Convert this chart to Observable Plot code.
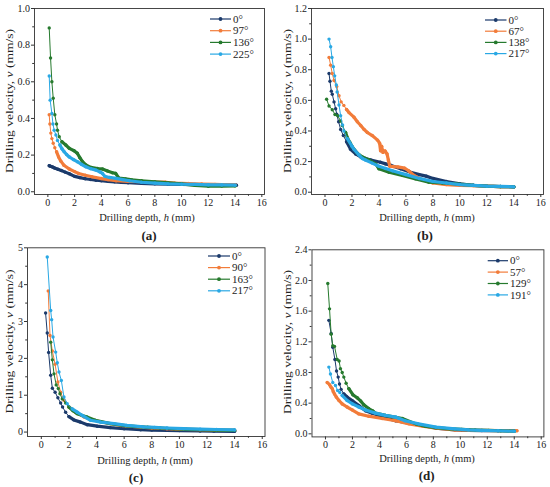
<!DOCTYPE html>
<html>
<head>
<meta charset="utf-8">
<script src="https://cdn.jsdelivr.net/npm/d3@7"></script>
<script src="https://cdn.jsdelivr.net/npm/@observablehq/plot@0.6"></script>
<style>
  body { margin: 0; background: #fff; }
  #fig { position: relative; width: 550px; height: 487px; font-family: "Liberation Serif", "Times New Roman", serif; }
  .panel { position: absolute; }
</style>
</head>
<body>
<div id="fig"></div>
<script>
// ---------- data ----------
const seriesColors = ["#1b3a6b", "#f27c3a", "#267a2e", "#29a8e4"];
const xMajor = [0, 2, 4, 6, 8, 10, 12, 14, 16];
const xMinor = [1, 3, 5, 7, 9, 11, 13, 15];

// (a)
const labelsA = ["0°", "97°", "136°", "225°"];
const a0 = [[0.1,0.142],[0.2,0.139],[0.35,0.135],[0.5,0.13],[0.75,0.123],[1.0,0.116],[1.3,0.107],[1.6,0.098],[2.0,0.084],[2.4,0.077],[2.8,0.071],[3.2,0.067],[3.6,0.063],[4.0,0.06],[4.5,0.057],[5.0,0.054],[5.5,0.051],[6.0,0.049],[7.0,0.046],[8.0,0.043],[9.0,0.041],[10.0,0.04],[11.0,0.039],[12.0,0.038],[13.0,0.037],[14.1,0.036]];
const a1 = [[0.1,0.42],[0.15,0.37],[0.22,0.32],[0.3,0.29],[0.4,0.265],[0.52,0.24],[0.65,0.218],[0.8,0.19],[0.97,0.167],[1.2,0.145],[1.6,0.124],[2.0,0.11],[2.3,0.1],[2.8,0.09],[3.3,0.082],[4.0,0.072],[4.5,0.066],[5.1,0.06],[6.0,0.057],[7.0,0.055],[8.0,0.053],[8.8,0.052],[9.5,0.047],[10.5,0.045],[11.5,0.042],[12.5,0.04],[13.5,0.038],[14.0,0.037]];
const a2 = [[0.1,0.894],[0.2,0.73],[0.3,0.6],[0.4,0.51],[0.52,0.42],[0.65,0.37],[0.72,0.336],[0.85,0.3],[1.05,0.273],[1.34,0.255],[1.6,0.237],[1.96,0.224],[2.2,0.21],[2.39,0.186],[2.59,0.164],[2.84,0.146],[3.21,0.133],[3.71,0.127],[4.08,0.124],[4.46,0.113],[4.83,0.104],[5.07,0.1],[5.3,0.075],[5.8,0.07],[6.3,0.065],[7.0,0.06],[8.0,0.054],[9.0,0.048],[10.0,0.043],[11.0,0.035],[12.0,0.03],[13.0,0.031],[14.0,0.032]];
const a3 = [[0.1,0.632],[0.17,0.5],[0.3,0.427],[0.38,0.37],[0.47,0.336],[0.6,0.31],[0.72,0.28],[0.9,0.255],[1.05,0.235],[1.22,0.218],[1.4,0.203],[1.6,0.19],[1.9,0.176],[2.2,0.164],[2.5,0.15],[2.84,0.136],[3.2,0.126],[3.6,0.118],[3.9,0.108],[4.08,0.1],[4.25,0.085],[4.6,0.078],[5.1,0.073],[5.6,0.066],[6.1,0.06],[7.0,0.052],[8.0,0.047],[9.0,0.043],[10.0,0.041],[11.0,0.04],[12.0,0.038],[13.0,0.037],[14.0,0.036]];

// (b)
const labelsB = ["0°", "67°", "138°", "217°"];
const b0 = [[0.3,0.775],[0.37,0.725],[0.47,0.66],[0.54,0.64],[0.67,0.59],[0.79,0.545],[0.87,0.51],[1.01,0.46],[1.16,0.41],[1.36,0.37],[1.6,0.33],[1.9,0.28],[2.27,0.25],[2.65,0.23],[3.0,0.22],[3.4,0.21],[4.1,0.196],[4.5,0.185],[4.9,0.175],[5.6,0.153],[6.35,0.13],[7.0,0.115],[7.5,0.105],[8.0,0.09],[9.0,0.07],[10.0,0.055],[11.0,0.045],[12.0,0.04],[13.0,0.037],[14.0,0.035]];
const b1 = [[0.3,0.88],[0.42,0.83],[0.54,0.775],[0.67,0.73],[0.87,0.69],[1.04,0.63],[1.2,0.59],[1.4,0.567],[1.6,0.54],[1.78,0.52],[2.15,0.49],[2.4,0.46],[2.65,0.436],[2.9,0.41],[3.14,0.39],[3.5,0.37],[3.9,0.34],[4.05,0.32],[4.12,0.27],[4.2,0.3],[4.3,0.26],[4.45,0.27],[4.6,0.25],[4.7,0.21],[4.8,0.17],[5.1,0.167],[5.4,0.165],[5.9,0.157],[6.2,0.14],[6.6,0.11],[7.0,0.09],[7.5,0.075],[8.0,0.06],[9.0,0.05],[10.0,0.045],[11.0,0.042],[12.0,0.04],[13.0,0.037],[14.0,0.035]];
const b2 = [[0.12,0.607],[0.3,0.563],[0.54,0.539],[0.74,0.508],[0.94,0.5],[1.16,0.465],[1.29,0.436],[1.53,0.39],[1.66,0.356],[1.83,0.327],[2.03,0.295],[2.4,0.255],[2.77,0.23],[3.26,0.21],[3.76,0.185],[4.0,0.153],[4.75,0.13],[5.74,0.11],[6.73,0.087],[7.7,0.065],[8.7,0.06],[9.7,0.055],[10.3,0.05],[11.0,0.045],[12.0,0.04],[13.0,0.037],[14.0,0.035]];
const b3 = [[0.3,1.0],[0.42,0.95],[0.52,0.88],[0.62,0.82],[0.72,0.76],[0.84,0.7],[0.9,0.655],[1.04,0.57],[1.16,0.5],[1.3,0.44],[1.4,0.4],[1.66,0.35],[2.0,0.3],[2.15,0.28],[2.5,0.245],[2.77,0.22],[3.0,0.21],[3.5,0.19],[4.0,0.17],[4.5,0.155],[5.0,0.14],[6.0,0.115],[7.0,0.09],[8.0,0.07],[9.0,0.06],[10.0,0.05],[11.0,0.045],[12.0,0.04],[13.0,0.038],[14.0,0.035]];

// (c)
const labelsC = ["0°", "90°", "163°", "217°"];
const c0 = [[0.31,3.23],[0.43,2.69],[0.53,2.16],[0.68,1.54],[0.8,1.19],[1.0,1.08],[1.2,0.93],[1.4,0.79],[1.54,0.68],[1.76,0.54],[2.0,0.42],[2.36,0.33],[2.85,0.27],[3.33,0.2],[4.05,0.16],[5.0,0.12],[6.0,0.09],[7.2,0.065],[8.0,0.055],[9.1,0.045],[10.0,0.04],[11.5,0.03],[12.5,0.025],[14.0,0.02]];
const c1 = [[0.5,3.83],[0.63,2.62],[0.8,2.2],[1.0,1.84],[1.2,1.36],[1.4,1.08],[1.64,0.86],[2.0,0.68],[2.48,0.54],[3.1,0.41],[3.8,0.32],[4.8,0.24],[5.75,0.18],[7.2,0.135],[8.0,0.11],[9.1,0.09],[10.2,0.075],[11.5,0.065],[12.7,0.055],[14.0,0.05]];
const c2 = [[0.68,2.44],[0.8,1.96],[0.92,1.58],[1.08,1.28],[1.23,1.18],[1.35,1.04],[1.52,0.9],[1.76,0.79],[2.0,0.68],[2.3,0.58],[2.6,0.5],[3.3,0.41],[3.9,0.32],[5.0,0.23],[6.2,0.17],[7.7,0.13],[8.6,0.11],[9.6,0.09],[10.5,0.075],[11.5,0.065],[12.7,0.055],[14.0,0.045]];
const c3 = [[0.43,4.75],[0.68,3.3],[0.75,3.05],[0.85,2.58],[1.04,2.17],[1.16,1.88],[1.28,1.63],[1.45,1.4],[1.64,0.95],[1.88,0.77],[2.24,0.63],[2.6,0.54],[2.97,0.45],[3.57,0.32],[4.3,0.27],[5.26,0.23],[6.2,0.18],[7.4,0.14],[8.2,0.125],[9.1,0.11],[10.3,0.095],[11.5,0.08],[12.7,0.07],[14.0,0.06]];

// (d)
const labelsD = ["0°", "57°", "129°", "191°"];
const d0 = [[0.25,1.48],[0.42,1.31],[0.54,1.13],[0.7,0.97],[0.82,0.82],[0.94,0.74],[1.04,0.65],[1.16,0.58],[1.36,0.52],[1.6,0.48],[2.0,0.43],[2.47,0.37],[2.97,0.3],[3.46,0.27],[4.2,0.22],[5.2,0.17],[6.2,0.14],[7.2,0.11],[8.2,0.074],[9.6,0.052],[10.6,0.046],[11.6,0.043],[12.8,0.041],[14.0,0.04]];
const d1 = [[0.12,0.67],[0.2,0.66],[0.3,0.64],[0.4,0.61],[0.5,0.59],[0.58,0.55],[0.67,0.52],[0.8,0.48],[1.0,0.435],[1.24,0.39],[1.6,0.35],[2.0,0.31],[2.47,0.26],[3.2,0.23],[4.2,0.2],[5.2,0.17],[6.2,0.13],[7.2,0.1],[8.2,0.074],[9.6,0.05],[10.6,0.047],[11.6,0.045],[12.9,0.042],[14.2,0.04]];
const d2 = [[0.17,1.96],[0.3,1.63],[0.42,1.3],[0.54,1.15],[0.67,1.14],[0.87,0.97],[1.01,0.95],[1.11,0.85],[1.24,0.8],[1.36,0.74],[1.53,0.66],[1.73,0.59],[2.03,0.51],[2.35,0.47],[2.6,0.43],[2.84,0.38],[3.2,0.33],[3.5,0.3],[3.7,0.27],[4.45,0.24],[5.7,0.2],[6.7,0.13],[7.4,0.1],[8.2,0.08],[9.2,0.065],[10.1,0.057],[11.1,0.05],[12.1,0.045],[13.0,0.04],[14.0,0.035]];
const d3s = [[0.25,0.87],[0.37,0.78],[0.54,0.67],[0.74,0.63],[0.9,0.565],[1.06,0.54],[1.24,0.5],[1.6,0.435],[2.0,0.39],[2.47,0.35],[2.97,0.31],[3.7,0.27],[4.45,0.24],[5.2,0.22],[5.9,0.17],[6.9,0.13],[8.2,0.087],[9.6,0.065],[10.6,0.052],[11.6,0.045],[12.8,0.04],[14.0,0.035]];

// ---------- layout / style ----------
const f1 = d3.format(".1f");
const panels = [
  {series:[a0,a1,a2,a3], labels:labelsA, left:0, top:0, w:275, h:240, mL:34, mR:11, mT:8, mB:46,
   yDomain:[-0.015,1.0], yMajor:[0,0.2,0.4,0.6,0.8,1.0], yMinor:[0.1,0.3,0.5,0.7,0.9], fmt:f1,
   band:[0.1,0.6,1.0,0.9], leg:{x0:210,x1:231,y0:19,dy:11.7}, xlab:{x:147,y:218}, ylab:{x:10,y:101}, cap:{x:149,y:236,t:"(a)"}},
  {series:[b0,b1,b2,b3], labels:labelsB, left:275, top:0, w:275, h:240, mL:36, mR:7, mT:8, mB:46,
   yDomain:[-0.015,1.2], yMajor:[0,0.2,0.4,0.6,0.8,1.0,1.2], yMinor:[0.1,0.3,0.5,0.7,0.9,1.1], fmt:f1,
   band:[1.5,1.5,1.5,1.5], leg:{x0:210,x1:231.5,y0:20,dy:11.2}, xlab:{x:152,y:217.5}, ylab:{x:13,y:101}, cap:{x:150,y:236,t:"(b)"}},
  {series:[c0,c1,c2,c3], labels:labelsC, left:0, top:240, w:275, h:247, mL:27, mR:10.5, mT:7.3, mB:51,
   yDomain:[-0.12,5], yMajor:[0,1,2,3,4,5], yMinor:[0.5,1.5,2.5,3.5,4.5], fmt:d3.format("d"),
   band:[1.8,2.0,1.8,2.0], leg:{x0:208,x1:230,y0:16,dy:11.6}, xlab:{x:145,y:221}, ylab:{x:9.5,y:101.5}, cap:{x:136,y:238,t:"(c)"}},
  {series:[d0,d1,d2,d3s], labels:labelsD, left:275, top:240, w:275, h:247, mL:36.5, mR:6.6, mT:9.3, mB:50.6,
   yDomain:[-0.04,2.4], yMajor:[0,0.4,0.8,1.2,1.6,2.0,2.4], yMinor:[0.2,0.6,1.0,1.4,1.8,2.2], fmt:f1,
   band:[1.2,0.3,1.6,1.1], leg:{x0:212.7,x1:233,y0:20.7,dy:11.4}, xlab:{x:152,y:218.3}, ylab:{x:12.5,y:102}, cap:{x:151.7,y:236,t:"(d)"}}
];

const fig = document.getElementById("fig");
const axisColor = "#333";

for (const p of panels) {
  const marks = [
    Plot.frame({stroke: axisColor, strokeWidth: 0.9}),
    Plot.axisX({ticks: xMajor, tickSize: 3, tickPadding: 1, fontSize: 10, label: null, stroke: axisColor}),
    Plot.axisX({ticks: xMinor, tickSize: 1.8, tickFormat: () => "", label: null, stroke: axisColor}),
    Plot.axisY({ticks: p.yMajor, tickSize: 3, tickPadding: 1.5, fontSize: 10, tickFormat: p.fmt, label: null, stroke: axisColor}),
    Plot.axisY({ticks: p.yMinor, tickSize: 1.8, tickFormat: () => "", label: null, stroke: axisColor})
  ];
  p.series.forEach((s, i) => {
    const pts = s.map(([h, v]) => ({h, v}));
    const col = seriesColors[i];
    marks.push(Plot.line(pts, {x: "h", y: "v", stroke: col, strokeWidth: 1}));
    marks.push(Plot.line(pts.filter(d => d.h >= p.band[i]), {x: "h", y: "v", stroke: col, strokeWidth: 3.2}));
    marks.push(Plot.dot(pts, {x: "h", y: "v", fill: col, r: 1.7}));
  });

  const chart = Plot.plot({
    width: p.w, height: p.h,
    marginLeft: p.mL, marginRight: p.mR, marginTop: p.mT, marginBottom: p.mB,
    x: {domain: [-1, 16.2], label: null},
    y: {domain: p.yDomain, label: null},
    style: {fontFamily: "Liberation Serif, Times New Roman, serif", fontSize: "10px", color: "#222", background: "transparent", overflow: "visible"},
    marks
  });
  chart.classList.add("panel");
  chart.style.left = p.left + "px";
  chart.style.top = p.top + "px";
  fig.appendChild(chart);

  const svg = d3.select(chart);
  const ff = "Liberation Serif, Times New Roman, serif";

  // legend
  const lg = svg.append("g").attr("text-anchor", "start");
  p.labels.forEach((lab, i) => {
    const y = p.leg.y0 + i * p.leg.dy;
    lg.append("line").attr("x1", p.leg.x0).attr("x2", p.leg.x1).attr("y1", y).attr("y2", y)
      .attr("stroke", seriesColors[i]).attr("stroke-width", 1.2);
    lg.append("circle").attr("cx", (p.leg.x0 + p.leg.x1) / 2).attr("cy", y).attr("r", 1.9).attr("fill", seriesColors[i]);
    lg.append("text").attr("x", p.leg.x1 + 2).attr("y", y).attr("dy", "0.33em").attr("text-anchor", "start")
      .attr("font-family", ff).attr("font-size", 11).attr("fill", "#222").text(lab);
  });

  // x label
  const xl = svg.append("text").attr("x", p.xlab.x).attr("y", p.xlab.y).attr("dy", "0.33em")
    .attr("text-anchor", "middle").attr("font-family", ff).attr("font-size", 10.5).attr("fill", "#222");
  xl.append("tspan").text("Drilling depth, ");
  xl.append("tspan").attr("font-style", "italic").text("h");
  xl.append("tspan").text(" (mm)");

  // y label
  const yl = svg.append("text")
    .attr("transform", `translate(${p.ylab.x},${p.ylab.y}) rotate(-90) scale(1.29,1)`)
    .attr("dy", "0.33em").attr("text-anchor", "middle").attr("font-family", ff)
    .attr("font-size", 10.5).attr("fill", "#222");
  yl.append("tspan").text("Drilling velocity, ");
  yl.append("tspan").attr("font-style", "italic").text("v");
  yl.append("tspan").text(" (mm/s)");

  // caption
  svg.append("text").attr("x", p.cap.x).attr("y", p.cap.y).attr("dy", "0.33em")
    .attr("text-anchor", "middle").attr("font-family", ff).attr("font-size", 13)
    .attr("font-weight", "bold").attr("fill", "#222").text(p.cap.t);
}
</script>
</body>
</html>
